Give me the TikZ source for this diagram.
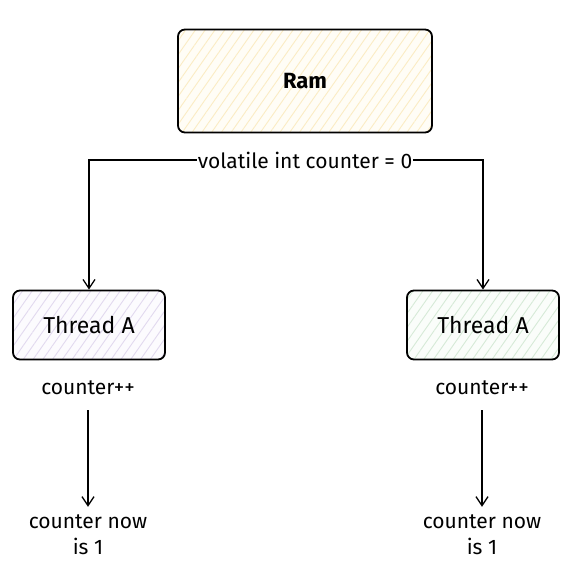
\documentclass[tikz,border=0pt]{standalone}
\usepackage{fontspec}
\setmainfont{Fira Sans}
\usetikzlibrary{arrows.meta,patterns.meta}
\definecolor{ramfill}{HTML}{FFFDF6}
\definecolor{ramhatch}{HTML}{FBECC4}
\definecolor{afill}{HTML}{FCFBFE}
\definecolor{ahatch}{HTML}{E2D9EF}
\definecolor{bfill}{HTML}{FAFDFA}
\definecolor{bhatch}{HTML}{D6EAD7}
\tikzset{
  box/.style={draw, line width=1.8pt, rounded corners=7pt, inner sep=0pt},
  lbl/.style={font=\fontsize{21}{26}\selectfont, align=center, inner sep=1pt},
  link/.style={line width=1.3pt, -{Straight Barb[length=9pt,width=12pt,line width=1.3pt]}},
}
\begin{document}
\begin{tikzpicture}[x=1pt,y=-1pt]
        \useasboundingbox (0,0) rectangle (577,588);
        %% memory
        \node[box, minimum width=254, minimum height=103, preaction={fill=ramfill},
              pattern={Lines[angle=55,distance=8pt,line width=0.9pt]}, pattern color=ramhatch]
              (ram) at (305,81) {\fontsize{22}{24}\selectfont\bfseries Ram};
        \node[lbl] (var) at (305,160) {volatile int counter = 0};
        %% left thread
        \node[box, minimum width=152, minimum height=69, preaction={fill=afill},
              pattern={Lines[angle=55,distance=8pt,line width=0.9pt]}, pattern color=ahatch]
              (thrL) at (89,325) {\fontsize{23}{25}\selectfont Thread A};
        \node[lbl] (incL) at (88,388) {counter++};
        \node[lbl] (resL) at (88,535) {counter now\\is 1};
        %% right thread
        \node[box, minimum width=152, minimum height=69, preaction={fill=bfill},
              pattern={Lines[angle=55,distance=8pt,line width=0.9pt]}, pattern color=bhatch]
              (thrR) at (483,325) {\fontsize{23}{25}\selectfont Thread A};
        \node[lbl] (incR) at (482,388) {counter++};
        \node[lbl] (resR) at (482,535) {counter now\\is 1};
        %% links
        \draw[link] (var.west) -| (thrL.north);
        \draw[link] (var.east) -| (thrR.north);
        \draw[link] ([yshift=-14pt]incL.south) -- ([yshift=7pt]resL.north);
        \draw[link] ([yshift=-14pt]incR.south) -- ([yshift=7pt]resR.north);
    \end{tikzpicture}
\end{document}
